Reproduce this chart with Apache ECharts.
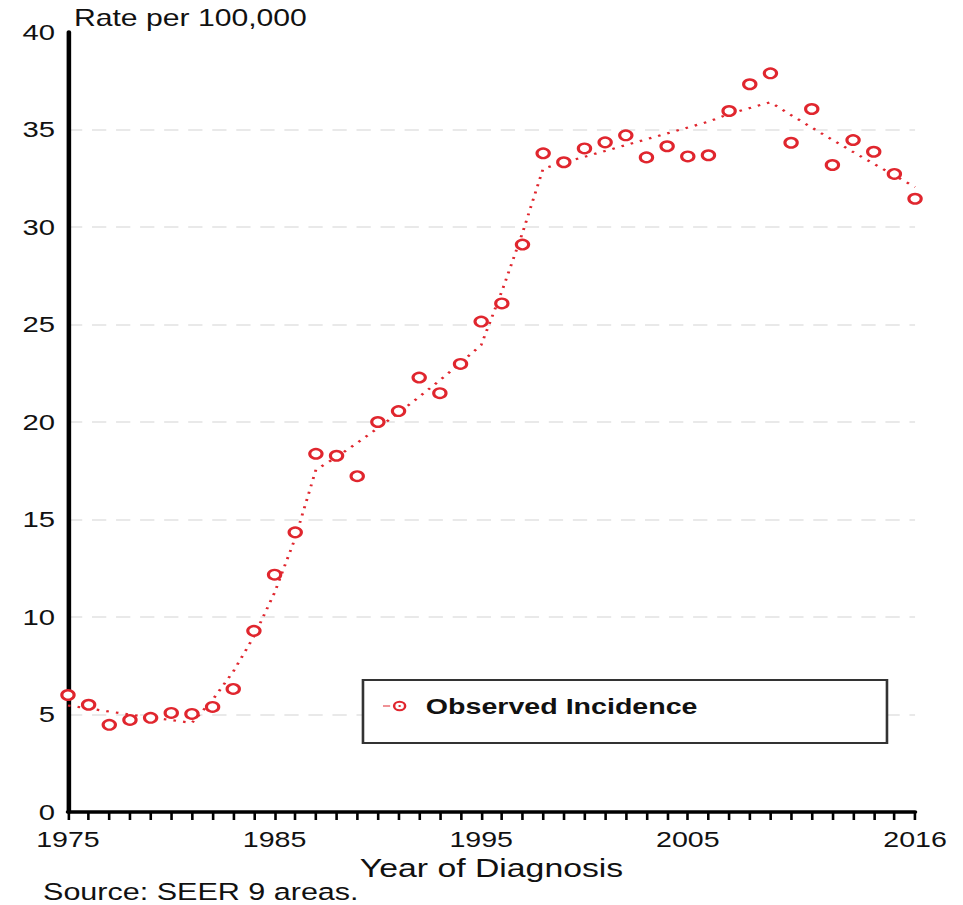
<!DOCTYPE html>
<html>
<head>
<meta charset="utf-8">
<script src="https://cdn.jsdelivr.net/npm/echarts@6/dist/echarts.min.js"></script>
<style>
  html, body { margin: 0; padding: 0; background: #fff; overflow: hidden; }
  /* The chart is laid out on a narrower canvas and widened horizontally. */
  #chart { width: 741px; height: 905px; transform: scaleX(1.2996); transform-origin: 0 0; }
</style>
</head>
<body>
<div id="chart"></div>
<script>
// Year of diagnosis
const years = [1975, 1976, 1977, 1978, 1979, 1980, 1981, 1982, 1983, 1984,
               1985, 1986, 1987, 1988, 1989, 1990, 1991, 1992, 1993, 1994,
               1995, 1996, 1997, 1998, 1999, 2000, 2001, 2002, 2003, 2004,
               2005, 2006, 2007, 2008, 2009, 2010, 2011, 2012, 2013, 2014,
               2015, 2016];

// Observed incidence, rate per 100,000
const observed = [6.0, 5.5, 4.47, 4.72, 4.83, 5.08, 5.03, 5.39, 6.31, 9.29,
                  12.17, 14.34, 18.37, 18.27, 17.22, 20.0, 20.56, 22.28, 21.48, 22.98,
                  25.15, 26.08, 29.1, 33.78, 33.32, 34.03, 34.34, 34.7, 33.57, 34.14,
                  33.62, 33.68, 35.95, 37.32, 37.88, 34.32, 36.05, 33.18, 34.46, 33.86,
                  32.72, 31.45];

// Modeled trend (joinpoint fit)
const fitted = [5.46, 5.31, 5.15, 5.0, 4.85, 4.71, 4.57, 5.75, 7.2, 9.0,
                11.25, 14.05, 17.55, 18.2, 18.93, 19.69, 20.47, 21.29, 22.14, 23.03,
                23.95, 26.7, 29.7, 33.0, 33.3, 33.6, 33.9, 34.2, 34.5, 34.8,
                35.1, 35.4, 35.8, 36.1, 36.4, 35.74, 35.1, 34.47, 33.85, 33.24,
                32.64, 32.05];

// Years that carry a label on the x axis
const labeledYears = [1975, 1985, 1995, 2005, 2016];

const seriesName = 'Observed Incidence';
const red = '#e0262e';
const textColor = '#111';
const font = '"Liberation Sans", Arial, sans-serif';

const observedData = years.map((y, i) => [y, observed[i]]);
const fittedData = years.map((y, i) => [y, fitted[i]]);

// Legend marker: short dash, ring and centre dot
const legendIcon = 'path://M0 4.6 L5.5 4.6 L5.5 5.8 L0 5.8 Z ' +
  'M12.8 0 A5.2 5.2 0 0 1 12.8 10.4 A5.2 5.2 0 0 1 12.8 0 Z ' +
  'M12.8 1.9 A3.3 3.3 0 0 0 12.8 8.5 A3.3 3.3 0 0 0 12.8 1.9 Z ' +
  'M12.8 4.2 A1 1 0 0 1 12.8 6.2 A1 1 0 0 1 12.8 4.2 Z';

const chart = echarts.init(document.getElementById('chart'), null, { renderer: 'svg' });

chart.setOption({
  animation: false,
  backgroundColor: '#fff',
  grid: { left: 52.3, right: 36.9, top: 32, bottom: 93, containLabel: false, outerBoundsMode: 'none' },
  xAxis: {
    type: 'value',
    min: 1975,
    max: 2016,
    interval: 1,
    name: 'Year of Diagnosis',
    nameLocation: 'middle',
    nameGap: 42,
    nameTextStyle: { fontFamily: font, fontSize: 26, color: textColor },
    axisLine: { show: true, onZero: false, lineStyle: { color: '#000', width: 3.5 } },
    axisTick: { show: true, length: 8, lineStyle: { color: '#000', width: 2 } },
    axisLabel: {
      fontFamily: font, fontSize: 22, color: textColor, margin: 16,
      showMinLabel: true, showMaxLabel: true,
      formatter: v => labeledYears.includes(v) ? String(v) : ''
    },
    splitLine: { show: false }
  },
  yAxis: {
    type: 'value',
    min: 0,
    max: 40,
    interval: 5,
    axisLine: { show: true, lineStyle: { color: '#000', width: 3.5 } },
    axisTick: { show: false },
    axisLabel: { fontFamily: font, fontSize: 22.5, color: textColor, margin: 10 },
    splitLine: {
      show: true,
      showMaxLine: false,
      lineStyle: { color: '#e2e2e2', width: 1.5, type: [11, 7.5] }
    }
  },
  legend: {
    z: 10,
    left: 289.7,
    top: 690,
    orient: 'horizontal',
    itemWidth: 18,
    itemHeight: 10.4,
    data: [{ name: seriesName, icon: legendIcon, itemStyle: { color: red, borderWidth: 0 } }],
    textStyle: { fontFamily: font, fontSize: 22, fontWeight: 'bold', color: textColor, padding: [3, 0, 0, 10] },
    selectedMode: false
  },
  graphic: [
    {
      type: 'rect', z: 3,
      shape: { x: 279.3, y: 680, width: 403.2, height: 63 },
      style: { fill: '#fff', stroke: '#333', lineWidth: 2 }
    },
    {
      type: 'text', z: 3, left: 56.9, top: 7,
      style: { text: 'Rate per 100,000', font: '23.2px ' + font, fill: textColor }
    },
    {
      type: 'text', z: 3, left: 33.1, top: 880,
      style: { text: 'Source: SEER 9 areas.', font: '23.5px ' + font, lineHeight: 23, fill: textColor }
    }
  ],
  series: [
    {
      name: 'Trend',
      type: 'line',
      data: fittedData,
      showSymbol: false,
      silent: true,
      z: 2,
      lineStyle: { color: red, width: 2.2, type: [2, 5.5] }
    },
    {
      name: seriesName,
      type: 'scatter',
      data: observedData,
      symbol: 'circle',
      symbolSize: 9.5,
      z: 3,
      itemStyle: { color: '#fff', borderColor: red, borderWidth: 2.4, opacity: 1 }
    }
  ]
});
</script>
</body>
</html>
